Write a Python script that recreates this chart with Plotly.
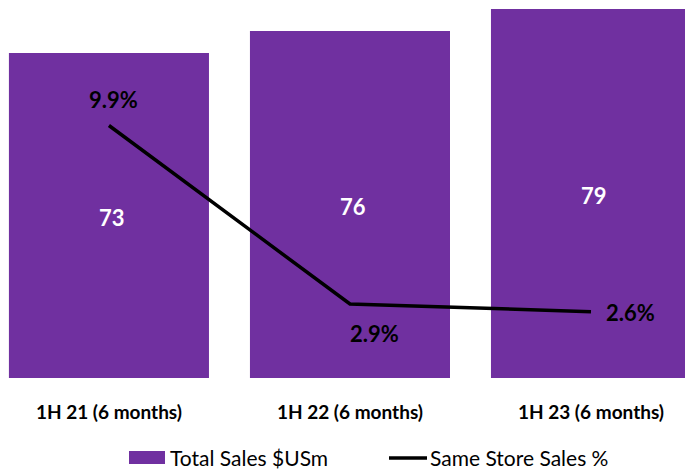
import plotly.graph_objects as go

# Half-year periods
periods = ["1H 21 (6 months)", "1H 22 (6 months)", "1H 23 (6 months)"]
# Total sales, US$ millions
total_sales = [73, 76, 79]
# Same store sales growth, %
same_store_pct = [9.9, 2.9, 2.6]
sss_labels = ["9.9%", "2.9%", "2.6%"]

PURPLE = "#7030A0"
FONT = "Lato, Roboto, sans-serif"

# Value axis is cut off below zero so the bars start from this level
Y_MIN, Y_MAX = 28.68, 80.23
PCT_MAX = 14.82

fig = go.Figure()

fig.add_trace(go.Bar(
    x=periods, y=total_sales,
    marker=dict(color=PURPLE, line=dict(width=0)),
    name="Total Sales $USm", yaxis="y",
))

# Bar values, centred on the visible part of each bar
for p, v in zip(periods, total_sales):
    fig.add_annotation(
        x=p, y=(v + Y_MIN) / 2, xref="x", yref="y", text=str(v), showarrow=False,
        xanchor="center", yanchor="middle", xshift=3, yshift=-2,
        font=dict(family=FONT, size=22, color="white", weight="bold"),
    )

fig.add_trace(go.Scatter(
    x=periods, y=same_store_pct, mode="lines",
    line=dict(color="black", width=3.5),
    name="Same Store Sales %", yaxis="y2",
))

# Percentage labels placed around each line point
label_place = [
    dict(xanchor="center", yanchor="bottom", xshift=5, yshift=10),
    dict(xanchor="left", yanchor="top", xshift=-2, yshift=-14),
    dict(xanchor="left", yanchor="middle", xshift=13, yshift=-1),
]
for p, v, t, pl in zip(periods, same_store_pct, sss_labels, label_place):
    fig.add_annotation(
        x=p, y=v, xref="x", yref="y2", text=t, showarrow=False,
        font=dict(family=FONT, size=22, color="black", weight="bold"),
        **pl,
    )

# Legend drawn below the axis
fig.add_shape(type="rect", xref="paper", yref="paper",
              x0=129 / 685, x1=165 / 685, y0=-(464 - 378) / 378, y1=-(451 - 378) / 378,
              fillcolor=PURPLE, line=dict(width=0))
fig.add_annotation(xref="paper", yref="paper", x=168 / 685, y=-(457 - 378) / 378,
                   text="Total Sales $USm", showarrow=False, xanchor="left", yanchor="middle",
                   font=dict(family=FONT, size=21, color="black"))
fig.add_shape(type="line", xref="paper", yref="paper",
              x0=389 / 685, x1=427 / 685, y0=-(458 - 378) / 378, y1=-(458 - 378) / 378,
              line=dict(color="black", width=3.5))
fig.add_annotation(xref="paper", yref="paper", x=428 / 685, y=-(457 - 378) / 378,
                   text="Same Store Sales %", showarrow=False, xanchor="left", yanchor="middle",
                   font=dict(family=FONT, size=21, color="black"))

fig.update_layout(
    width=685, height=472,
    margin=dict(l=0, r=0, t=0, b=94),
    paper_bgcolor="white", plot_bgcolor="white",
    showlegend=False,
    bargap=0.17,
    xaxis=dict(type="category", range=[-0.452, 2.39], showgrid=False, zeroline=False,
               showline=False, ticks="", ticklabelstandoff=21,
               tickfont=dict(family=FONT, size=19, color="black", weight="bold")),
    yaxis=dict(range=[Y_MIN, Y_MAX], visible=False, showgrid=False, zeroline=False),
    yaxis2=dict(range=[0, PCT_MAX], overlaying="y", side="right", visible=False,
                showgrid=False, zeroline=False),
)

fig.write_html("out.html")
